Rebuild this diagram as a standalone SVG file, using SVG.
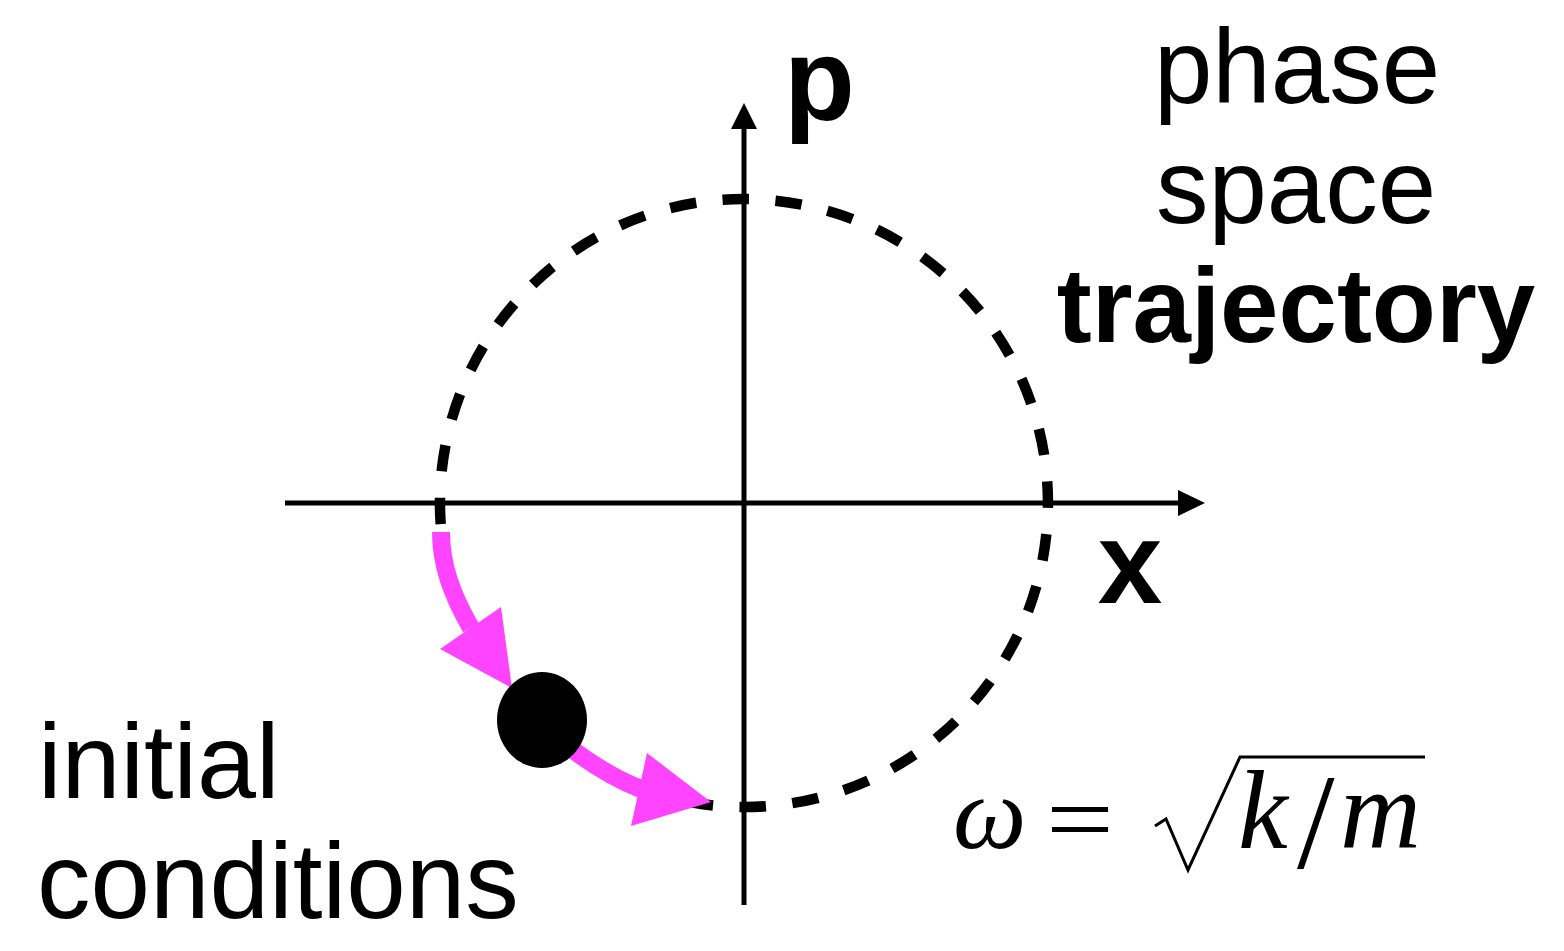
<svg xmlns="http://www.w3.org/2000/svg" width="1564" height="951" viewBox="0 0 1564 951">
<style>
.lbl{font-family:"Liberation Sans",Arial,sans-serif;fill:#000}
.bold{font-weight:bold}
.ax{stroke:#000;stroke-width:5;fill:none}
.traj{stroke:#000;stroke-width:10.5;fill:none;stroke-dasharray:26.5 26.5}
.pink{stroke:#FF44FF;stroke-width:18;fill:none}
.pinkhead{fill:#FF44FF}
.math{font-family:"Liberation Serif","Times New Roman",serif;fill:#000}
</style>
<rect width="1564" height="951" fill="#fff"/>
<g id="axes">
<line class="ax" x1="285" y1="503" x2="1182" y2="503"/>
<polygon points="1178,490 1205,503 1178,516" fill="#000"/>
<line class="ax" x1="744" y1="905" x2="744" y2="126"/>
<polygon points="731,129 744,103 757,129" fill="#000"/>
</g>
<g id="trajectory">
<path class="traj" d="M440.7,524.2 A304,304 0 1 1 690,802.2"/>
</g>
<g id="connectors">
<path class="pink" d="M441,532 C441,565 452,595 471,628"/>
<polygon class="pinkhead" points="440,649 501,607 512,688"/>
<path class="pink" d="M560,740 C585,760 610,777 641,789"/>
<polygon class="pinkhead" points="647,753 631,826 711,802"/>
</g>
<g id="initial-point">
<ellipse cx="542" cy="720" rx="45" ry="48" fill="#000"/>
</g>
<g id="label-p"><text class="lbl bold" x="784" y="120" font-size="116">p</text></g>
<g id="label-x"><text class="lbl bold" x="1130" y="603" font-size="116" text-anchor="middle">x</text></g>
<g id="label-phase-space">
<text class="lbl" x="1297" y="103" font-size="105" text-anchor="middle">phase</text>
<text class="lbl" x="1296" y="223" font-size="105" text-anchor="middle">space</text>
<text class="lbl bold" x="1296" y="342" font-size="105" text-anchor="middle">trajectory</text>
</g>
<g id="label-initial">
<text class="lbl" x="38" y="798" font-size="106">initial</text>
<text class="lbl" x="37" y="918" font-size="107">conditions</text>
</g>
<g id="formula">
<text class="math" x="953" y="848" font-style="italic" font-size="104">ω</text>
<text class="math" x="1046" y="853" font-size="100" textLength="68" lengthAdjust="spacingAndGlyphs">=</text>
<path d="M1155,826 L1166,819 L1188,870 L1240,757 L1425,757" fill="none" stroke="#000" stroke-width="3" stroke-linejoin="miter"/>
<text class="math" x="1238" y="848" font-style="italic" font-size="112">k</text>
<text class="math" x="1297" y="868" font-size="135">/</text>
<text class="math" x="1340" y="848" font-style="italic" font-size="112">m</text>
</g>
</svg>
